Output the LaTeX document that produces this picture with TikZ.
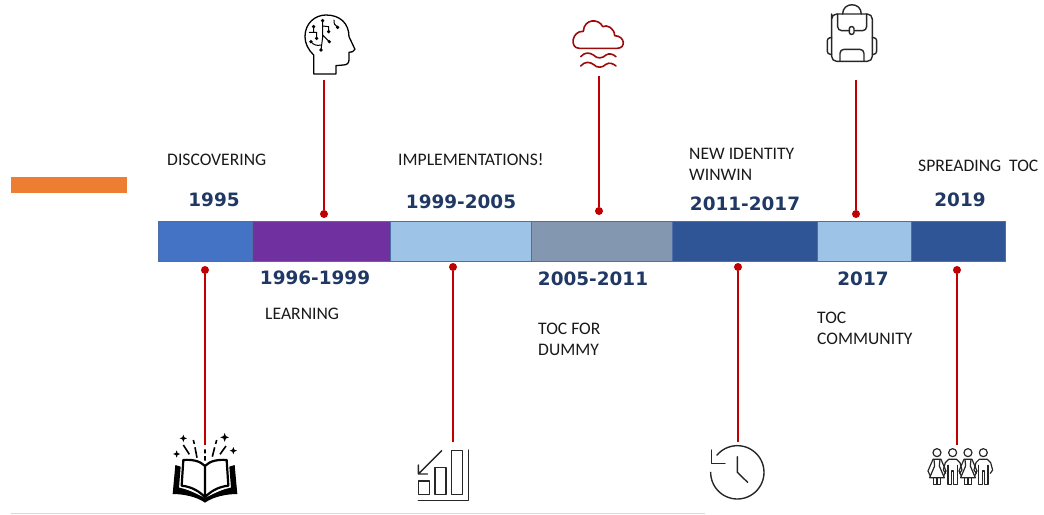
\documentclass[tikz,border=0pt]{standalone}
\usepackage{fontspec}
\setmainfont{Carlito}
\newfontfamily\yearfont{DejaVu Sans}[BoldFont={DejaVu Sans Bold}]
\definecolor{stemred}{HTML}{C00000}
\definecolor{barblue}{HTML}{4472C4}
\definecolor{barpurple}{HTML}{7030A0}
\definecolor{barlight}{HTML}{9DC3E6}
\definecolor{bargrey}{HTML}{8497B0}
\definecolor{bardark}{HTML}{2F5597}
\definecolor{yearblue}{HTML}{203864}
\definecolor{cloudred}{HTML}{9C0A0A}
\definecolor{icongrey}{HTML}{262626}
\tikzset{
	barpart/.style={draw=bardark!85!white, line width=0.45pt, anchor=north west, inner sep=0pt, outer sep=0pt, minimum height=40pt},
	stemdot/.style={circle, fill=stemred, inner sep=0pt, outer sep=0pt, minimum size=8pt},
	stem/.style={draw=stemred, line width=2.6pt},
	yearlabel/.style={text=yearblue, font=\yearfont\bfseries\fontsize{18.4}{20}\selectfont, inner sep=0pt},
	textlabel/.style={anchor=west, inner sep=0pt, text=black!90, font=\fontsize{17.6}{20}\selectfont},
	iconline/.style={draw=icongrey, line width=1.4pt, line cap=round, line join=round},
	girl/.pic={
		\draw[iconline, line width=1.2pt] (0,0) circle(12);
		\draw[iconline, line width=1.2pt] (-9,20) -- (-7,40) -- (-22,75) -- (22,75) -- (7,40) -- (9,20);
		\draw[iconline, line width=1.2pt] (-20,70) -- (-27,55) -- (-12,20) -- (12,20) -- (27,55) -- (20,70);
		\draw[iconline, line width=1.2pt] (-11,75) -- (-11,95) -- (0,95) -- (0,75) (0,95) -- (11,95) -- (11,75);
	},
	boy/.pic={
		\draw[iconline, line width=1.2pt] (0,0) circle(12);
		\draw[iconline, line width=1.2pt] (-21,62) -- (-28,52) -- (-22,30) -- (-12,20) -- (12,20) -- (22,30) -- (28,52) -- (21,62);
		\draw[iconline, line width=1.2pt] (-14,38) -- (-14,95) -- (-3,95) -- (-3,55) -- (3,55) -- (3,95) -- (14,95) -- (14,38);
	},
	spark/.pic={
		\fill[black] (0,-11) -- (3,-3) -- (11,0) -- (3,3) -- (0,11) -- (-3,3) -- (-11,0) -- (-3,-3) -- cycle;
	}
}
\begin{document}
\begin{tikzpicture}[x=1pt, y=-1pt]
	\useasboundingbox (0,0) rectangle (1044,514);
	% side mark and bottom rule
	\fill[fill={rgb,255:red,237;green,125;blue,49}] (11,177) rectangle (127,193);
	\fill[black!15] (11,512.5) rectangle (705,514);

	% the bar
	\node[barpart, fill=barblue, minimum width=94pt] (B1) at (158,221) {};
	\node[barpart, fill=barpurple, minimum width=138pt] (B2) at (252,221) {};
	\node[barpart, fill=barlight, minimum width=141pt] (B3) at (390,221) {};
	\node[barpart, fill=bargrey, minimum width=141pt] (B4) at (531,221) {};
	\node[barpart, fill=bardark, minimum width=145pt] (B5) at (672,221) {};
	\node[barpart, fill=barlight, minimum width=94pt] (B6) at (817,221) {};
	\node[barpart, fill=bardark, minimum width=94.5pt] (B7) at (911,221) {};

	% years
	\node[yearlabel] (Y1) at (214,200) {1995};
	\node[yearlabel] (Y2) at (315,278) {1996-1999};
	\node[yearlabel] (Y3) at (461,202) {1999-2005};
	\node[yearlabel] (Y4) at (593,279) {2005-2011};
	\node[yearlabel] (Y5) at (745,204) {2011-2017};
	\node[yearlabel] (Y6) at (863,279) {2017};
	\node[yearlabel] (Y7) at (960,200) {2019};

	% texts
	\node[textlabel] (T1) at (167,160) {DISCOVERING};
	\node[textlabel] (T2) at (265,314) {LEARNING};
	\node[textlabel] (T3) at (398,160) {IMPLEMENTATIONS!};
	\node[textlabel] (T4a) at (538,329) {TOC FOR};
	\node[textlabel] (T4b) at (538,350) {DUMMY};
	\node[textlabel] (T5a) at (689,154) {NEW IDENTITY};
	\node[textlabel] (T5b) at (689,175) {WINWIN};
	\node[textlabel] (T6a) at (817,318) {TOC};
	\node[textlabel] (T6b) at (817,339) {COMMUNITY};
	\node[textlabel] (T7) at (918,166) {SPREADING\ \ TOC};

	% stems
	\node[stemdot] (D1) at (205,270) {};
	\node[stemdot] (D2) at (324,214) {};
	\node[stemdot] (D3) at (453,267) {};
	\node[stemdot] (D4) at (599,211) {};
	\node[stemdot] (D5) at (738,267) {};
	\node[stemdot] (D6) at (856,214) {};
	\node[stemdot] (D7) at (957,270) {};
	\coordinate (E1) at (205,445);
	\coordinate (E2) at (324,80);
	\coordinate (E3) at (453,442);
	\coordinate (E4) at (599,76);
	\coordinate (E5) at (738,442);
	\coordinate (E6) at (856,80);
	\coordinate (E7) at (957,445);
	\draw[stem] (D1) -- (E1);
	\draw[stem] (D2) -- (E2);
	\draw[stem] (D3) -- (E3);
	\draw[stem] (D4) -- (E4);
	\draw[stem] (D5) -- (E5);
	\draw[stem] (D6) -- (E6);
	\draw[stem] (D7) -- (E7);

	% head
	\begin{scope}[shift={(150,0)}, x=0.3333pt, y=-0.3333pt]
		\draw[iconline, line width=1.3pt, draw=black] (491,222) -- (491,165) .. controls (475,150) and (465,130) .. (465,110) .. controls (465,70) and (495,45) .. (528,45) .. controls (570,45) and (597,70) .. (597,110) -- (615,148) .. controls (612,155) and (605,157) .. (597,157) -- (597,180) .. controls (597,190) and (590,195) .. (580,195) -- (558,197) -- (558,222) -- cycle;
		\draw[iconline, line width=1pt, draw=black] (518,62) -- (518,112) -- (513,150) (518,78) -- (536,80) -- (536,95) (518,105) -- (538,125) (483,125) .. controls (490,135) and (500,138) .. (514,135) (491,80) -- (491,97) (478,97) -- (500,97) -- (500,115) (552,60) -- (553,72) -- (563,82);
		\foreach \dotx/\doty in {518/62, 536/95, 538/125, 513/150, 483/125, 491/80, 500/115, 563/82}
			\fill[black] (\dotx,\doty) circle(5.5);
	\end{scope}

	% cloud and backpack
	\begin{scope}[shift={(540,0)}, x=0.3333pt, y=-0.3333pt]
		\draw[iconline, draw=cloudred, line width=1.6pt] (118,145) -- (232,145) .. controls (258,145) and (256,108) .. (224,107) .. controls (224,85) and (200,72) .. (188,80) .. controls (178,55) and (132,55) .. (130,94) .. controls (95,92) and (88,145) .. (118,145) -- cycle;
		\draw[iconline, draw=cloudred, line width=1.6pt] (122,170) .. controls (135,155) and (150,158) .. (160,165) .. controls (172,178) and (188,175) .. (198,165) .. controls (208,158) and (220,163) .. (228,170);
		\draw[iconline, draw=cloudred, line width=1.6pt] (122,198) .. controls (135,183) and (150,186) .. (160,193) .. controls (172,206) and (188,203) .. (198,193) .. controls (208,186) and (220,191) .. (228,198);
		\draw[iconline] (875,57) [rounded corners=5pt] -- (875,184) -- (997,184) -- (997,42) -- (875,42) -- cycle;
		\draw[iconline] (908,42) .. controls (908,5) and (964,5) .. (964,42);
		\draw[iconline, rounded corners=4pt] (893,42) -- (893,92) -- (980,92) -- (980,42);
		\draw[iconline, rounded corners=2pt, fill=white] (928,80) rectangle (942,103);
		\draw[iconline, rounded corners=3pt] (875,113) -- (862,113) -- (862,163) -- (875,163);
		\draw[iconline, rounded corners=3pt] (997,113) -- (1010,113) -- (1010,163) -- (997,163);
		\draw[iconline, rounded corners=4pt] (900,184) -- (900,148) -- (972,148) -- (972,184);
	\end{scope}

	% book and chart
	\begin{scope}[shift={(150,420)}, x=0.3333pt, y=-0.3333pt]
		\fill[black] (76,135) -- (68,222) .. controls (100,222) and (140,230) .. (165,248) .. controls (190,230) and (230,222) .. (262,222) -- (254,135) -- (238,140) -- (243,203) .. controls (215,208) and (190,222) .. (165,234) .. controls (140,222) and (115,208) .. (87,203) -- (92,140) -- cycle;
		\draw[black, line width=2.2pt, line join=round] (165,138) .. controls (150,122) and (125,118) .. (100,120) -- (95,197) .. controls (125,200) and (150,215) .. (165,232) .. controls (180,215) and (205,200) .. (235,197) -- (230,120) .. controls (205,118) and (180,122) .. (165,138) -- (165,232);
		\draw[black, line width=1.6pt] (100,75) -- (118,103) (130,60) -- (133,72) (135,82) -- (141,113) (165,88) -- (165,100) (165,108) -- (165,122) (200,60) -- (197,72) (194,82) -- (187,110) (228,78) -- (210,103);
		\pic at (100,55) {spark};
		\pic at (80,102) {spark};
		\pic[scale=1.2] at (224,52) {spark};
		\pic at (250,92) {spark};
		\draw[iconline] (805,183) rectangle (838,224);
		\draw[iconline] (855,142) rectangle (888,224);
		\draw[iconline] (905,92) rectangle (937,224);
		\draw[iconline] (955,90) -- (955,241) -- (805,241);
		\draw[iconline] (875,92) -- (805,162) (805,135) -- (805,162) -- (832,162);
	\end{scope}

	% clock and people
	\begin{scope}[shift={(680,420)}, x=0.3333pt, y=-0.3333pt]
		\draw[iconline] plot[domain=-140:180, samples=60] ({172+80*cos(\x)},{157+80*sin(\x)});
		\draw[iconline] (95,90) -- (95,130) -- (135,130);
		\draw[iconline] (172,110) -- (172,157) -- (203,187);
		\pic at (771,98) {girl};
		\pic at (818,98) {boy};
		\pic at (864,98) {girl};
		\pic at (910,98) {boy};
	\end{scope}
\end{tikzpicture}
\end{document}
